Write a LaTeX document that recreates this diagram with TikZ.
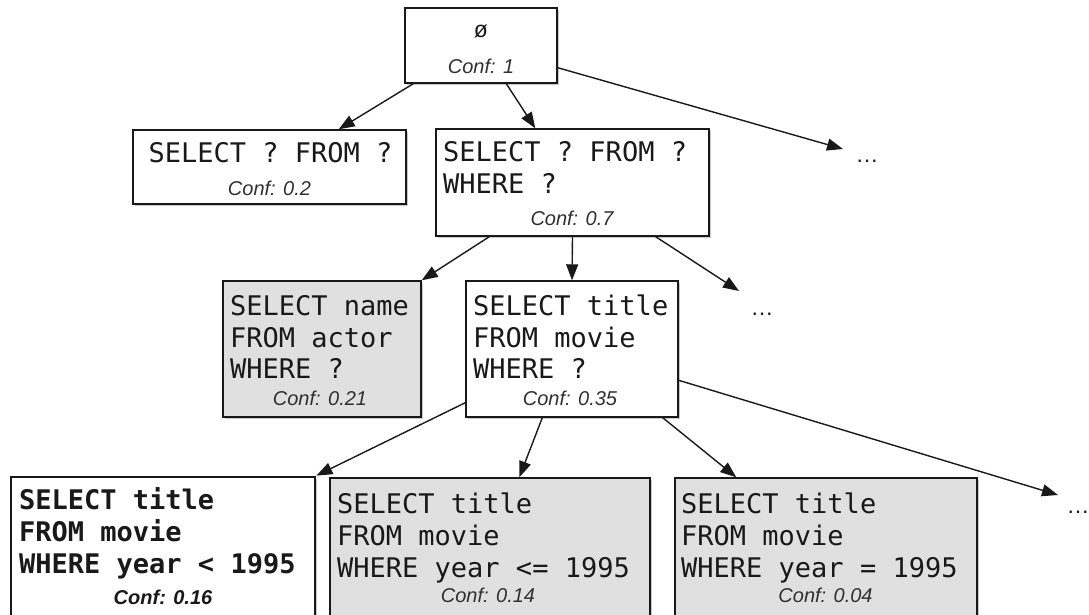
\documentclass[tikz,border=0pt]{standalone}
\usepackage{fontspec}
\setmainfont{Liberation Sans}
\setmonofont{DejaVu Sans Mono}
\usetikzlibrary{arrows.meta,calc,shadows}
\definecolor{boxgray}{RGB}{224,224,224}
\definecolor{ink}{RGB}{25,25,25}

\tikzset{
  box/.style={draw=ink, line width=1.4pt, rectangle, inner sep=0pt, fill=white,
    drop shadow={shadow xshift=1.5pt, shadow yshift=-1.5pt, opacity=0.3, fill=black!70}},
  greybox/.style={box, fill=boxgray},
  bestbox/.style={box, line width=2.8pt},
  sql/.style={anchor=base west, inner sep=0pt, font=\fontsize{27}{31}\ttfamily, text=ink},
  sqlmid/.style={sql, anchor=base},
  sqlbold/.style={sql, font=\fontsize{27}{31}\ttfamily\bfseries},
  conf/.style={anchor=base, inner sep=0pt, font=\fontsize{20}{24}\selectfont\itshape, text=ink!90},
  confbold/.style={conf, font=\fontsize{20}{24}\selectfont\itshape\bfseries, text=ink},
  emptyset/.style={anchor=base, inner sep=0pt, font=\fontsize{23}{27}\selectfont, text=ink},
  more/.style={anchor=base, inner sep=0pt, font=\fontsize{23}{27}\selectfont, text=ink},
  edge/.style={draw=ink, line width=1.4pt, -{Triangle[length=16pt,width=12pt]}},
}

\begin{document}
\begin{tikzpicture}[x=1pt,y=-1pt]
\useasboundingbox (0,0) rectangle (1089,614);
\clip (0,0) rectangle (1089,614);

% root of the search tree
\node[box, minimum width=152pt, minimum height=75pt] (root) at (481,45.5) {};
\node[emptyset] (rootset) at (481,37) {ø};
\node[conf] (rootconf) at (481,73) {Conf: 1};

% second level
\node[box, minimum width=273pt, minimum height=74pt] (a) at (269.5,167) {};
\node[sqlmid] (a1) at (270.5,162) {SELECT ? FROM ?};
\node[conf] (aconf) at (269.5,195) {Conf: 0.2};

\node[box, minimum width=273pt, minimum height=107pt] (b) at (572.5,182.5) {};
\node[sql] (b1) at (443,161) {SELECT ? FROM ?};
\node[sql] (b2) at (443,193) {WHERE ?};
\node[conf] (bconf) at (572,225) {Conf: 0.7};

\node[more] (more1) at (867,162) {…};

% third level
\node[greybox, minimum width=198pt, minimum height=136pt] (c) at (322,349) {};
\node[sql] (c1) at (230,315) {SELECT name};
\node[sql] (c2) at (230,347) {FROM actor};
\node[sql] (c3) at (230,378) {WHERE ?};
\node[conf] (cconf) at (320,405) {Conf: 0.21};

\node[box, minimum width=212pt, minimum height=136pt] (d) at (572,349) {};
\node[sql] (d1) at (473,315) {SELECT title};
\node[sql] (d2) at (473,347) {FROM movie};
\node[sql] (d3) at (473,378) {WHERE ?};
\node[conf] (dconf) at (570,405) {Conf: 0.35};

\node[more] (more2) at (762,315) {…};

% fourth level
\node[bestbox, minimum width=304pt, minimum height=163pt] (e) at (163,558.5) {};
\node[sqlbold] (e1) at (19,509) {SELECT title};
\node[sqlbold] (e2) at (19,541) {FROM movie};
\node[sqlbold] (e3) at (19,573) {WHERE year < 1995};
\node[confbold] (econf) at (163,604) {Conf: 0.16};

\node[greybox, minimum width=320pt, minimum height=162pt] (f) at (490,559) {};
\node[sql] (f1) at (337,513) {SELECT title};
\node[sql] (f2) at (337,545) {FROM movie};
\node[sql] (f3) at (337,577) {WHERE year <= 1995};
\node[conf] (fconf) at (488,602) {Conf: 0.14};

\node[greybox, minimum width=302pt, minimum height=162pt] (g) at (826,559) {};
\node[sql] (g1) at (681,513) {SELECT title};
\node[sql] (g2) at (681,545) {FROM movie};
\node[sql] (g3) at (681,577) {WHERE year = 1995};
\node[conf] (gconf) at (825.5,602) {Conf: 0.04};

\node[more] (more3) at (1078,513) {…};

% refinement edges
\draw[edge] ($(root.south west)+(9,0)$) -- ($(a.north east)+(-68,0)$);
\draw[edge] ($(root.south west)+(102,0)$) -- ($(b.north west)+(100,0)$);
\draw[edge] ($(root.south east)+(0,-16)$) -- ($(more1.base)+(-24,-13)$);

\draw[edge] ($(b.south west)+(54,0)$) -- (c.north east);
\draw[edge] (b.south) -- (d.north);
\draw[edge] ($(b.south east)+(-54,0)$) -- ($(more2.base)+(-23,-24)$);

\draw[edge] ($(d.south west)+(0,-15)$) -- (e.north east);
\draw[edge] ($(d.south west)+(77,0)$) -- ($(f.north west)+(190,0)$);
\draw[edge] ($(d.south east)+(-16,0)$) -- ($(g.north west)+(62,0)$);
\draw[edge] ($(d.north east)+(0,100)$) -- ($(more3.base)+(-20,-18)$);
\end{tikzpicture}
\end{document}
